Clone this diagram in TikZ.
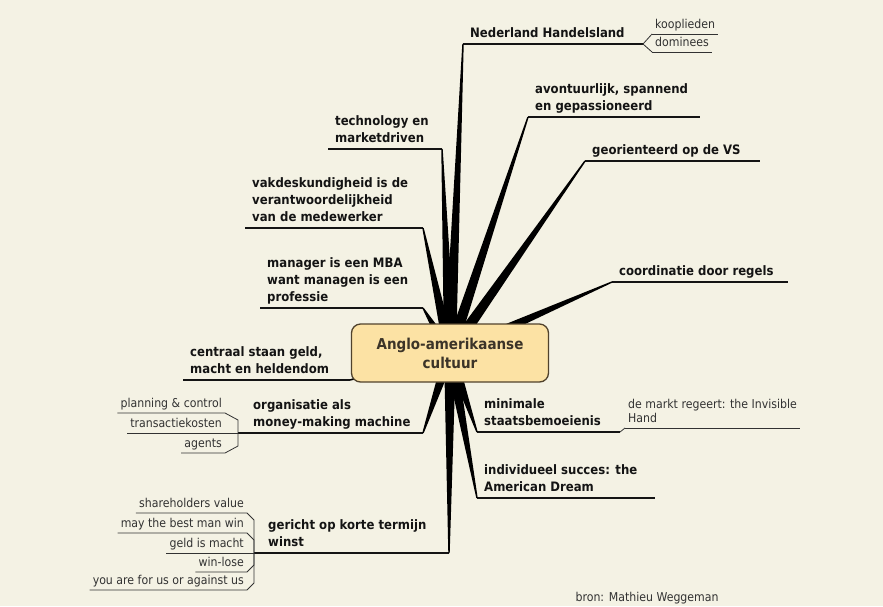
\documentclass[tikz,border=0pt]{standalone}
\usepackage{fontspec}
\setmainfont{DejaVu Sans}[FakeStretch=0.9]
\usetikzlibrary{calc}
\definecolor{paper}{RGB}{244,242,228}
\definecolor{hubfill}{RGB}{252,226,164}
\definecolor{hubline}{RGB}{80,66,44}
\definecolor{hubtext}{RGB}{60,52,40}
\definecolor{ink}{RGB}{20,20,20}
\definecolor{subink}{RGB}{50,50,50}
\tikzset{topic/.style = {anchor = south west, align = left, inner xsep = 7pt, inner ysep = 3pt,
                         text = ink, font = \fontsize{13}{17}\selectfont\bfseries,
                         execute at end node = {\vrule width 0pt depth 3pt}}}
\tikzset{subtopic/.style = {align = left, inner xsep = 3pt, inner ysep = 2pt,
                            text = subink, font = \fontsize{12.2}{14}\selectfont,
                            execute at end node = {\vrule width 0pt depth 3pt}}}
\tikzset{hubbox/.style = {draw = hubline, fill = hubfill, line width = 1.3pt, rounded corners = 9pt,
                          minimum width = 197pt, minimum height = 58pt, align = center,
                          text = hubtext, font = \fontsize{15}{19}\selectfont\bfseries}}
\tikzset{uline/.style = {draw = ink, line width = 1.2pt}}
\tikzset{subline/.style = {draw = subink, line width = 0.8pt}}
\tikzset{spokefill/.style = {fill = black}}
\newcommand{\spoke}[2]{\fill [spokefill] ($(#1)!6pt!90:(#2)$) -- ($(#2)!0.7pt!-90:(#1)$)
  -- ($(#2)!0.7pt!90:(#1)$) -- ($(#1)!6pt!-90:(#2)$) -- cycle;}

\begin{document}
\begin{tikzpicture}[x = 1pt, y = -1pt]
  \fill [paper] (0, 0) rectangle (883, 606);
  \useasboundingbox (0, 0) rectangle (883, 606);
  \coordinate (hub) at (450, 353);

  % right side
  \node [topic] (ned) at (463, 44) {Nederland Handelsland};
  \coordinate (ned-e) at (643, 44);
  \node [topic] (avo) at (528, 117) {avontuurlijk, spannend\\en gepassioneerd};
  \coordinate (avo-e) at (700, 117);
  \node [topic] (geo) at (585, 161) {georienteerd op de VS};
  \coordinate (geo-e) at (760, 161);
  \node [topic] (coo) at (612, 282) {coordinatie door regels};
  \coordinate (coo-e) at (788, 282);
  \node [topic] (min) at (477, 432) {minimale\\staatsbemoeienis};
  \coordinate (min-e) at (620, 432);
  \node [topic] (ind) at (477, 498) {individueel succes: the\\American Dream};
  \coordinate (ind-e) at (655, 498);
  \foreach \n in {ned, avo, geo, coo, min, ind} {
    \draw [uline] (\n.south west) -- (\n-e);
    \spoke{hub}{\n.south west}
  }

  % left side
  \node [topic] (tec) at (328, 149) {technology en\\marketdriven};
  \coordinate (tec-e) at (442, 149);
  \node [topic] (vak) at (245, 228) {vakdeskundigheid is de\\verantwoordelijkheid\\van de medewerker};
  \coordinate (vak-e) at (423, 228);
  \node [topic] (man) at (260, 308) {manager is een MBA\\want managen is een\\professie};
  \coordinate (man-e) at (423, 308);
  \node [topic] (cga) at (183, 380) {centraal staan geld,\\macht en heldendom};
  \coordinate (cga-e) at (350, 380);
  \node [topic] (org) at (246, 433) {organisatie als\\money-making machine};
  \coordinate (org-w) at (238, 433);
  \coordinate (org-e) at (423, 433);
  \node [topic] (ger) at (261, 553) {gericht op korte termijn\\winst};
  \coordinate (ger-w) at (254, 553);
  \coordinate (ger-e) at (449, 553);
  \foreach \n in {tec, vak, man, cga} {
    \draw [uline] (\n.south west) -- (\n-e);
    \spoke{hub}{\n-e}
  }
  \foreach \n in {org, ger} {
    \draw [uline] (\n-w) -- (\n-e);
    \spoke{hub}{\n-e}
  }

  % sub topics
  \node [subtopic, anchor = south west] (koop) at (652, 34) {kooplieden};
  \node [subtopic, anchor = south west] (dom) at (652, 52) {dominees};
  \node [subtopic, anchor = south west] (markt) at (625, 428) {de markt regeert: the Invisible\\Hand};
  \foreach \n in {koop, dom, markt}
    \draw [subline] (\n.south west) -- (\n.south east);
  \draw [subline] (koop.south west) -- (ned-e) -- (dom.south west);
  \draw [subline] (min-e) -- (markt.south west);

  \node [subtopic, anchor = south east] (pc) at (225, 413) {planning \& control};
  \node [subtopic, anchor = south east] (tk) at (225, 433) {transactiekosten};
  \node [subtopic, anchor = south east] (ag) at (225, 453) {agents};
  \foreach \n/\d in {pc/7, tk/0, ag/-7}
    \draw [subline] (\n.south west) -- (\n.south east) -- ++(13, \d) |- (org-w);

  \node [subtopic, anchor = south east] (shv) at (247, 513) {shareholders value};
  \node [subtopic, anchor = south east] (mbm) at (247, 533) {may the best man win};
  \node [subtopic, anchor = south east] (gim) at (247, 553) {geld is macht};
  \node [subtopic, anchor = south east] (wl) at (247, 572) {win-lose};
  \node [subtopic, anchor = south east] (yaf) at (247, 590) {you are for us or against us};
  \foreach \n/\d in {shv/7, mbm/7, gim/0, wl/-7, yaf/-7}
    \draw [subline] (\n.south west) -- (\n.south east) -- ++(7, \d) |- (ger-w);

  \node [hubbox] (cen) at (hub) {Anglo-amerikaanse\\cultuur};
  \node [anchor = base west, text = subink, font = \fontsize{12.2}{14}\selectfont] (src) at (572, 601) {bron: Mathieu Weggeman};
\end{tikzpicture}
\end{document}
